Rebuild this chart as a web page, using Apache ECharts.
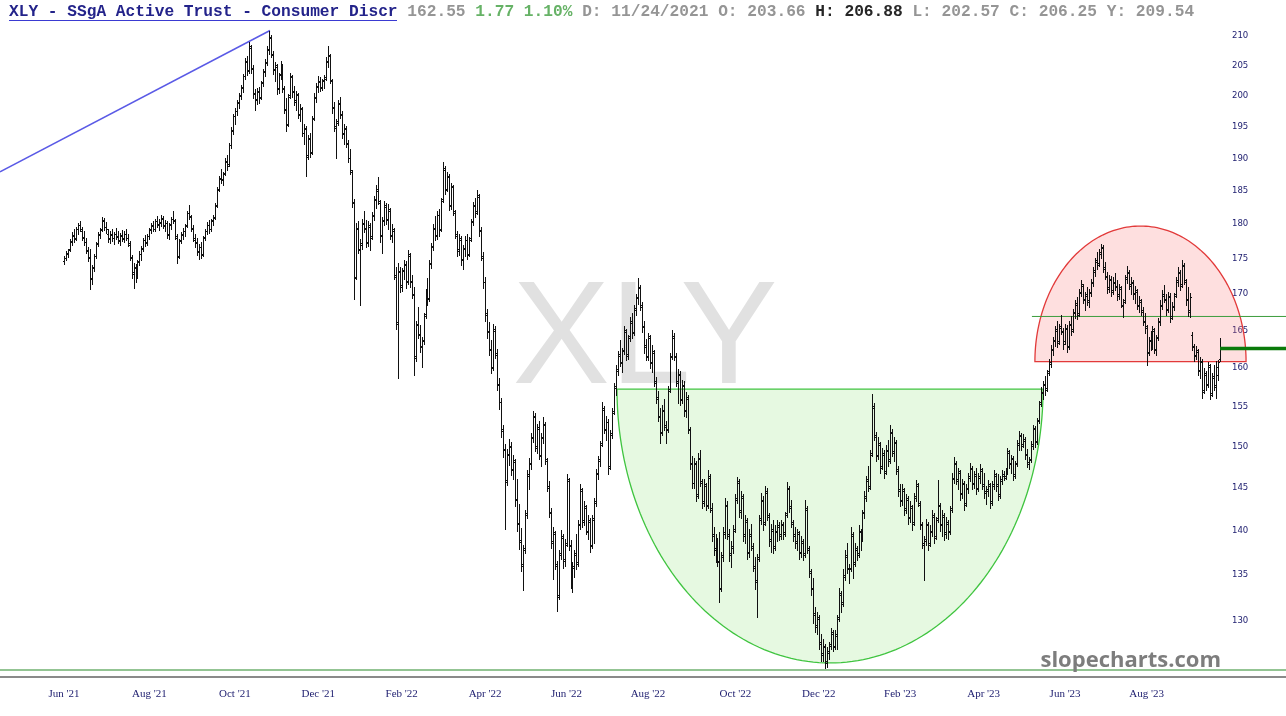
<!DOCTYPE html>
<html><head><meta charset="utf-8">
<script src="https://cdn.jsdelivr.net/npm/echarts@6.0.0/dist/echarts.min.js"></script>
<style>html,body{margin:0;padding:0;background:#fff}#c{width:1286px;height:716px}</style>
</head><body><div id="c"></div>
<script>
// ---------------- DATA ----------------
const firstDay = '2021-06-01';
const lastDay = '2023-09-22';
const holidays = ['2021-07-05','2021-09-06','2021-11-25','2021-12-24','2022-01-17','2022-02-21','2022-04-15','2022-05-30','2022-06-20','2022-07-04','2022-09-05','2022-11-24','2022-12-26','2023-01-02','2023-01-16','2023-02-20','2023-04-07','2023-05-29','2023-06-19','2023-07-04','2023-09-04'];
const monthNames = ['Jan','Feb','Mar','Apr','May','Jun','Jul','Aug','Sep','Oct','Nov','Dec'];
const yTicks = [130,135,140,145,150,155,160,165,170,175,180,185,190,195,200,205,210];
// daily bars: [open, high, low, close]
const ohlc = [
// Jun 2021
[174.6,175.4,174.2,175.1],[175.0,176.0,174.8,175.8],[175.6,176.4,175.2,176.2],[176.3,177.8,176.0,177.5],[177.4,178.8,177.0,178.4],[178.2,179.2,177.4,177.8],[177.9,179.6,177.6,179.3],[179.2,180.1,178.6,179.9],[179.8,180.4,178.9,179.2],[179.0,179.6,177.6,178.0],[178.1,178.9,176.9,177.4],[177.3,177.9,175.8,176.2],[176.0,176.6,174.6,175.0],[175.2,176.4,170.7,172.2],[172.0,174.0,171.4,173.6],[173.8,175.6,173.2,175.3],[175.4,177.4,175.0,177.1],[177.2,178.8,176.8,178.5],[178.4,179.4,177.9,179.1],[179.2,181.1,178.9,180.6],[180.4,180.9,179.1,179.6],[179.5,180.3,178.7,179.2],
// Jul 2021
[178.6,179.3,177.4,177.8],[177.9,179.0,177.2,178.6],[178.4,179.2,177.5,177.9],[178.0,178.8,177.1,178.5],[178.5,179.4,177.8,178.2],[178.1,178.9,177.2,177.5],[177.6,178.7,177.0,178.4],[178.3,179.1,177.5,177.8],[177.9,179.0,177.4,178.6],[178.5,179.2,177.6,178.0],[177.9,178.5,176.8,177.2],[177.0,177.5,174.8,175.2],[175.0,175.5,172.2,172.8],[173.0,174.4,170.8,173.8],[173.6,174.2,171.6,172.4],[172.6,174.8,172.2,174.5],[174.6,176.0,174.0,175.7],[175.6,176.8,174.8,176.4],[176.5,178.0,176.1,177.7],[177.6,178.4,176.8,177.2],[177.3,178.5,176.9,178.2],
// Aug 2021
[178.3,179.4,177.8,179.1],[179.2,180.2,178.7,179.8],[179.7,180.4,178.9,179.2],[179.3,180.8,179.0,180.5],[180.4,181.2,179.6,180.0],[179.9,180.7,179.1,180.3],[180.2,181.3,179.7,180.9],[180.8,181.2,179.4,179.7],[179.8,180.6,179.0,180.2],[180.1,180.5,178.0,178.4],[178.5,180.2,177.8,179.9],[180.0,181.0,179.2,180.7],[180.8,181.9,180.2,180.6],[180.4,180.7,177.8,178.2],[178.0,178.5,174.4,175.2],[175.4,177.8,175.0,177.5],[177.6,178.8,177.2,178.4],[178.5,179.4,177.8,179.0],[178.9,180.0,178.2,179.7],[179.8,182.0,179.6,181.6],[181.7,182.9,180.8,181.2],[181.0,181.4,179.0,179.4],
// Sep 2021
[179.3,179.9,177.5,177.9],[177.7,178.5,176.6,177.2],[177.3,178.0,175.5,175.9],[176.1,177.1,174.9,176.7],[176.6,177.3,175.0,175.5],[175.7,178.3,175.4,178.0],[178.1,179.3,177.6,179.0],[178.9,180.3,178.5,179.9],[179.8,180.6,178.7,179.2],[179.3,180.8,178.9,180.5],[180.6,181.3,179.9,180.9],[181.0,183.1,180.7,182.7],[182.8,185.6,182.5,185.1],[185.3,187.3,184.9,186.9],[186.8,188.3,186.1,186.6],[186.7,187.9,185.9,187.5],[187.7,190.0,187.4,189.6],[189.4,190.4,188.2,188.7],[189.0,192.4,188.8,192.0],[192.1,194.9,191.6,194.4],[194.3,197.0,193.8,196.6],
// Oct 2021
[196.6,198.0,195.4,197.5],[197.4,199.2,196.8,198.8],[198.9,200.4,198.0,199.9],[200.0,201.8,199.4,201.4],[201.2,203.6,200.6,203.2],[203.3,206.2,202.8,205.8],[205.6,206.6,203.4,204.0],[204.2,208.9,203.8,208.2],[208.0,208.4,203.8,204.6],[204.4,205.0,199.6,200.4],[200.2,201.0,197.6,199.2],[199.4,201.2,198.6,200.8],[200.6,201.4,198.8,199.6],[199.8,202.4,199.4,202.0],[202.2,204.4,201.6,203.9],[204.0,206.0,203.2,205.4],[205.6,208.2,205.0,207.8],[207.6,210.9,207.0,209.8],[209.6,210.2,206.4,207.0],[206.8,207.4,203.6,204.2],[204.4,205.6,202.4,205.0],
// Nov 2021
[204.8,205.2,200.2,201.0],[201.2,203.8,200.4,203.4],[203.6,205.8,202.8,204.8],[204.6,205.2,200.6,201.2],[201.0,201.6,197.2,197.8],[197.6,199.6,194.2,195.2],[195.4,200.2,195.0,199.8],[200.0,203.8,199.6,203.2],[203.0,203.4,199.8,200.6],[200.8,201.6,198.4,199.0],[199.2,200.8,197.6,200.2],[200.0,200.4,196.4,196.8],[197.0,198.6,195.8,198.0],[197.8,198.2,193.4,193.9],[194.0,195.4,192.2,194.8],[194.6,195.0,187.3,190.2],[190.4,193.6,189.8,193.0],[193.2,194.0,190.2,190.8],[191.0,196.6,190.6,196.2],[196.4,200.4,196.0,199.8],[199.6,202.0,199.0,201.6],
// Dec 2021
[201.4,203.2,200.6,202.4],[202.2,203.0,200.8,201.2],[201.4,202.8,200.9,202.4],[202.6,203.4,201.2,202.8],[203.0,206.4,202.6,205.8],[205.6,208.2,204.8,206.8],[206.6,207.0,202.0,202.6],[202.4,202.8,197.2,198.2],[198.0,199.0,194.2,194.8],[195.0,196.2,190.0,195.6],[195.8,199.2,195.2,198.6],[198.8,199.8,196.4,197.0],[196.8,197.4,193.2,193.8],[194.0,195.4,192.2,194.8],[194.6,195.0,191.8,192.4],[192.2,192.8,189.4,190.0],[190.0,191.4,187.6,188.2],[187.8,188.2,182.5,183.3],[183.1,183.7,169.3,172.2],[172.4,180.2,172.0,179.4],[179.2,180.4,175.8,176.4],[176.2,177.8,168.4,177.0],
// Jan 2022
[177.2,180.8,176.4,180.2],[180.0,182.0,178.8,179.2],[179.4,180.6,176.6,177.2],[177.4,180.4,176.8,179.8],[179.6,180.2,176.2,178.0],[178.2,181.8,177.8,181.2],[181.4,184.2,180.6,183.6],[183.8,185.8,182.4,185.2],[185.0,187.0,183.0,183.4],[183.2,183.6,177.4,178.2],[178.4,181.0,175.8,180.4],[180.6,183.4,179.8,182.8],[182.6,183.2,180.0,180.6],[180.8,183.0,179.2,182.2],[182.0,182.4,177.8,178.4],[178.2,180.0,177.4,179.2],[179.0,179.4,172.0,172.6],[172.4,173.8,165.1,165.9],[166.1,174.4,158.6,173.2],[173.0,173.8,170.2,171.0],
// Feb 2022
[171.2,173.6,170.4,173.2],[173.4,174.8,172.0,174.2],[174.0,174.6,170.8,171.6],[171.8,176.2,171.4,175.6],[175.4,175.8,171.0,171.6],[171.8,172.6,169.4,170.0],[169.8,171.0,159.0,161.3],[161.5,166.3,160.9,165.7],[165.9,168.1,163.9,164.5],[164.3,165.7,162.1,162.7],[162.9,164.1,160.1,163.5],[163.7,167.3,163.1,166.9],[167.2,170.6,166.6,170.0],[169.8,172.2,168.4,169.2],[169.4,174.8,169.0,174.2],[174.4,177.2,173.6,176.8],[176.6,180.0,176.2,179.4],[179.2,181.2,177.6,178.2],[178.4,182.0,177.8,181.4],
// Mar 2022
[181.3,182.3,178.3,179.1],[179.3,183.9,178.9,183.5],[183.7,189.4,183.3,188.4],[188.2,188.8,184.5,185.1],[185.3,187.9,184.9,187.3],[187.1,187.5,182.1,182.7],[182.9,186.1,182.3,185.7],[185.5,185.9,181.3,181.9],[181.7,182.1,177.9,178.5],[178.3,178.9,175.3,176.1],[176.3,178.5,175.5,177.9],[177.7,178.3,174.1,174.7],[174.9,176.9,173.5,176.5],[176.3,178.3,175.3,177.6],[177.7,178.5,174.9,175.5],[175.7,178.1,175.3,177.7],[177.9,180.7,177.5,180.3],[180.5,183.3,179.9,182.9],[182.7,183.9,181.1,181.7],[181.9,185.1,181.5,184.3],[184.1,184.5,178.3,179.1],[178.9,179.5,174.7,175.3],[175.1,175.9,170.8,171.6],
// Apr 2022
[171.7,172.3,166.3,167.1],[167.3,167.9,163.9,164.7],[164.9,166.1,161.7,162.3],[162.5,163.7,159.3,159.9],[160.1,165.9,159.7,165.1],[164.9,165.5,161.3,161.9],[161.7,162.5,157.1,157.7],[157.9,158.7,154.7,155.5],[155.5,156.1,151.1,151.9],[152.1,152.7,148.7,149.5],[149.7,150.3,140.2,145.7],[145.9,149.7,145.3,149.1],[148.9,150.9,147.7,150.1],[149.9,150.5,146.5,147.1],[147.3,148.9,146.1,148.3],[148.1,148.5,142.9,143.5],[143.7,146.1,139.9,140.7],[140.9,143.1,137.9,138.7],[138.9,140.3,135.4,136.0],[136.2,138.4,133.3,137.8],
// May 2022
[138.0,142.4,137.4,141.8],[142.0,147.1,141.4,146.4],[146.6,148.6,144.8,148.0],[147.8,151.6,147.2,151.0],[151.2,154.4,150.6,153.8],[153.6,154.2,149.4,150.0],[149.8,152.8,149.2,152.2],[152.4,153.2,148.4,149.0],[148.8,151.6,147.6,151.0],[151.2,153.6,150.4,152.8],[152.6,153.0,147.8,148.4],[148.2,148.6,144.6,145.2],[145.0,145.8,141.6,142.2],[142.0,142.6,138.0,138.6],[138.8,140.4,134.6,139.8],[139.6,140.0,135.6,136.2],[136.0,136.6,131.1,132.6],[132.8,137.8,132.4,137.2],[137.4,140.1,136.8,139.4],[139.2,139.6,135.8,136.6],[136.8,139.0,136.0,138.4],
// Jun 2022
[138.6,146.6,138.2,146.0],[145.8,146.2,137.8,138.4],[138.2,138.9,133.6,134.2],[134.4,136.4,133.1,135.8],[136.0,137.8,134.8,137.2],[137.4,139.6,135.6,136.2],[136.4,141.2,136.0,140.6],[140.8,145.4,140.2,144.8],[144.6,145.0,140.4,141.0],[141.2,143.4,140.6,142.8],[142.6,143.0,139.6,140.0],[139.8,141.8,139.0,141.2],[141.0,141.4,137.6,138.2],[138.4,141.8,138.0,141.4],[141.2,143.8,138.6,143.2],[143.4,147.2,142.8,146.6],[146.8,148.8,146.0,148.2],[148.4,150.7,147.6,150.2],[150.4,155.6,150.0,154.8],[154.6,155.0,151.6,152.2],[152.0,153.8,150.8,153.0],
// Jul 2022
[153.0,153.4,146.6,147.4],[147.6,152.0,147.2,151.4],[151.6,154.8,151.0,154.2],[154.4,158.0,154.0,157.4],[157.6,160.4,156.4,159.8],[159.6,162.2,159.0,161.6],[161.8,163.7,160.2,160.8],[160.6,162.6,159.4,162.2],[162.4,165.6,161.8,165.0],[164.8,165.2,161.0,161.6],[161.8,164.4,161.2,164.0],[164.2,166.8,163.6,166.2],[166.0,167.4,164.0,164.6],[164.8,168.4,164.4,167.8],[168.0,170.0,167.0,169.6],[169.4,172.2,168.6,171.0],[170.8,171.2,167.8,168.4],[168.2,168.8,164.8,165.4],[165.6,166.2,162.0,162.8],[163.0,163.8,161.0,161.6],
// Aug 2022
[161.4,164.6,161.0,164.0],[164.2,164.4,160.0,160.6],[160.8,163.0,159.4,162.2],[162.0,162.4,157.6,158.2],[158.0,158.8,155.4,156.0],[156.2,157.0,153.2,153.8],[153.6,154.8,150.4,151.6],[151.8,155.2,151.4,154.6],[154.4,156.0,152.0,152.6],[152.4,153.2,150.4,152.0],[152.2,157.6,151.8,157.0],[157.2,162.0,156.8,161.4],[161.6,165.0,161.2,164.2],[164.0,164.6,161.0,161.6],[161.4,162.0,157.6,158.2],[158.0,159.8,155.4,159.2],[159.0,159.6,155.2,155.8],[156.0,158.4,155.4,157.8],[157.6,158.2,153.8,154.4],[154.6,156.8,153.6,156.2],[156.0,156.4,151.6,152.2],[152.0,152.4,147.2,147.8],[148.0,148.8,145.0,145.6],
// Sep 2022
[145.6,148.6,145.0,148.0],[147.8,148.2,143.4,144.0],[144.2,149.2,143.8,148.6],[148.4,149.5,145.2,145.8],[145.6,146.0,142.6,143.2],[143.4,146.0,142.8,145.4],[145.2,145.6,142.4,142.8],[143.0,147.1,142.6,146.4],[146.2,146.6,142.2,142.6],[142.4,143.2,138.8,139.4],[139.6,140.4,137.2,137.8],[138.0,139.6,136.4,139.0],[138.8,139.2,136.0,136.6],[136.4,139.8,132.0,133.4],[133.6,137.6,133.2,137.0],[137.2,140.4,136.6,139.8],[139.6,143.8,139.2,143.0],[142.8,143.4,139.0,139.6],[139.4,140.2,136.6,137.2],[137.4,138.8,135.9,138.2],[138.0,140.6,137.4,140.0],
// Oct 2022
[140.2,144.2,139.8,143.6],[143.8,146.3,143.2,145.8],[145.6,146.0,141.6,142.2],[142.4,144.6,141.4,144.0],[143.8,144.2,138.8,139.4],[139.6,141.8,138.6,141.2],[141.0,141.4,136.8,137.4],[137.6,140.2,137.0,139.6],[139.4,140.8,137.8,138.2],[138.0,138.6,135.4,136.0],[135.8,137.0,133.4,134.2],[134.4,137.3,130.4,136.8],[137.0,141.8,136.6,141.2],[141.4,144.4,140.8,143.6],[143.4,144.0,140.1,140.8],[141.0,145.2,140.6,144.6],[144.4,145.0,141.2,141.8],[141.6,142.0,138.2,138.8],[139.0,140.8,137.6,140.2],[140.0,141.2,137.5,138.0],[138.2,140.6,137.8,140.0],
// Nov 2022
[139.8,141.2,138.8,140.6],[140.4,141.0,138.9,139.4],[139.6,141.2,139.0,140.8],[140.6,141.0,139.0,139.6],[139.8,142.2,139.4,141.8],[142.0,145.7,141.6,145.0],[144.8,145.2,142.2,142.8],[142.6,143.5,140.4,141.0],[140.8,141.2,138.8,139.4],[139.6,140.4,138.0,138.6],[138.8,140.2,137.8,139.8],[139.6,140.0,136.8,137.4],[137.6,139.4,137.0,138.8],[138.6,139.0,136.7,137.2],[137.4,143.5,137.0,142.6],[142.4,142.8,137.4,138.0],[137.8,138.2,134.8,135.4],[135.2,135.6,132.8,133.4],[133.6,134.7,129.8,130.6],[130.8,131.5,128.8,129.4],[129.6,131.0,128.6,130.4],
// Dec 2022
[130.2,130.6,127.0,127.6],[127.8,128.6,125.8,126.4],[126.6,128.1,125.8,127.4],[127.2,127.6,125.1,125.6],[125.8,127.2,125.2,126.8],[126.6,127.8,126.0,127.4],[127.6,129.2,127.0,128.8],[128.6,129.0,126.8,127.2],[127.4,129.0,127.0,128.4],[128.6,130.6,127.0,130.2],[130.4,133.6,130.0,133.0],[132.8,133.2,131.0,131.8],[132.0,135.6,131.6,135.0],[134.8,137.8,134.4,137.2],[137.0,138.6,135.2,135.8],[135.6,136.2,134.1,135.6],[135.8,140.4,135.4,139.6],[139.4,139.8,134.7,136.2],[136.4,138.6,136.0,138.0],[137.8,138.2,136.7,137.2],[137.4,140.6,137.0,140.0],
// Jan 2023
[139.8,140.2,137.8,139.0],[139.2,142.4,138.8,142.0],[142.2,144.6,141.4,144.0],[143.8,146.4,143.4,146.0],[145.8,147.6,144.6,145.0],[145.2,149.6,144.8,149.0],[149.2,156.6,148.8,155.0],[154.8,155.4,150.8,151.4],[151.2,151.8,148.2,148.8],[149.0,151.2,148.4,150.4],[150.2,150.6,146.8,147.4],[147.6,149.8,147.2,149.2],[149.0,149.6,146.2,146.8],[147.0,150.2,146.6,149.6],[149.4,150.8,147.6,148.2],[148.4,152.6,148.0,151.8],[151.6,152.2,148.8,149.4],[149.2,151.2,148.2,150.6],[150.4,150.8,146.6,147.2],[147.0,147.6,144.0,144.6],
// Feb 2023
[144.8,145.4,142.8,143.4],[143.6,145.4,143.0,144.8],[144.6,145.0,141.8,142.4],[142.6,144.2,142.0,143.8],[143.6,144.0,140.8,141.4],[141.6,143.4,141.0,142.8],[142.6,143.0,140.1,140.8],[141.0,144.4,140.6,144.0],[143.8,145.9,143.4,145.4],[145.2,145.6,142.8,143.2],[143.0,143.4,140.2,140.8],[140.6,141.0,138.0,138.6],[138.4,139.4,134.4,138.8],[139.0,141.3,138.4,140.8],[140.6,141.0,137.8,138.4],[138.6,140.6,138.2,140.0],[139.8,142.4,139.4,141.8],[141.6,142.0,138.6,139.2],[139.4,141.6,139.0,141.2],
// Mar 2023
[141.4,145.9,141.0,143.0],[142.8,143.2,140.0,140.6],[140.8,142.4,139.4,141.8],[141.6,142.0,138.9,139.6],[139.8,141.6,139.2,141.0],[140.8,141.2,139.0,139.8],[140.0,142.8,139.6,142.4],[142.6,146.8,142.2,146.2],[146.0,148.7,145.6,148.0],[147.8,148.2,145.4,146.0],[145.8,147.4,144.8,147.0],[146.8,147.1,143.6,144.2],[144.4,146.0,143.8,145.6],[145.4,145.8,142.4,143.0],[143.2,145.4,142.8,145.0],[144.8,146.8,144.4,146.4],[146.2,148.0,145.8,147.4],[147.2,147.6,144.8,145.4],[145.6,147.0,145.0,146.6],[146.4,147.4,144.3,144.8],[145.0,146.8,144.6,146.4],[146.2,147.8,145.6,147.2],[147.0,147.4,144.8,145.2],
// Apr 2023
[145.4,146.8,143.8,144.4],[144.6,145.2,143.1,144.8],[144.6,145.9,144.0,145.4],[145.2,145.6,142.6,143.2],[143.4,145.8,143.0,145.4],[145.2,147.1,144.8,146.6],[146.4,146.8,144.6,145.2],[145.4,146.6,143.5,144.0],[144.2,146.4,143.8,146.0],[145.8,147.1,145.4,146.6],[146.4,147.0,145.9,146.2],[146.4,147.4,146.0,147.0],[146.8,149.8,146.6,149.2],[149.4,149.6,147.4,147.8],[148.0,149.0,146.8,148.6],[148.4,148.8,145.9,146.4],[146.6,148.2,146.2,147.8],[148.0,150.8,147.6,150.4],[150.2,151.9,149.6,151.4],
// May 2023
[151.3,151.7,149.6,150.1],[150.3,151.5,149.9,150.9],[150.7,151.1,148.5,148.9],[149.1,149.7,147.5,148.1],[147.9,148.7,147.2,148.3],[148.5,150.7,148.1,150.3],[150.1,152.7,149.7,152.3],[152.1,152.5,149.9,150.5],[150.7,153.5,150.3,153.1],[153.3,155.7,152.9,155.3],[155.5,157.5,155.1,156.9],[156.7,158.3,155.9,157.9],[157.7,158.9,156.5,157.1],[157.3,159.7,157.0,159.3],[159.5,161.1,159.1,160.7],[160.5,163.0,160.1,162.5],[162.3,164.1,161.7,163.7],[163.5,165.5,162.9,165.1],[164.9,166.2,162.7,163.3],[163.5,165.9,163.1,165.5],[165.3,167.1,164.5,164.9],[164.7,165.3,162.5,163.1],
// Jun 2023
[163.5,165.9,163.1,165.3],[165.1,165.7,162.1,162.7],[162.9,166.3,162.5,165.9],[165.7,166.9,164.3,164.9],[165.1,167.9,164.7,167.5],[167.3,169.1,166.7,168.7],[168.5,169.5,166.5,167.1],[167.3,170.7,166.9,170.3],[170.1,171.9,169.7,171.3],[171.1,171.4,168.7,169.3],[169.1,170.3,167.7,169.9],[169.7,170.9,168.5,168.9],[169.1,170.7,168.1,170.3],[170.1,172.1,169.7,171.7],[171.5,173.7,171.1,173.3],[173.1,175.1,172.5,174.7],[174.5,175.9,173.5,174.1],[174.3,176.3,173.9,175.9],[175.7,177.1,175.1,176.7],[176.5,176.9,173.1,173.7],[173.5,174.5,172.1,172.5],
// Jul 2023
[172.3,173.1,170.1,170.7],[170.9,172.7,170.3,172.1],[171.9,172.5,169.7,170.3],[170.5,172.3,169.9,171.7],[171.5,172.9,170.5,171.1],[170.9,171.9,169.1,169.7],[169.9,171.3,169.3,170.9],[170.7,171.1,168.1,168.5],[168.3,169.3,166.8,168.9],[169.1,172.7,168.7,172.3],[172.1,173.9,171.5,173.1],[172.9,173.3,170.7,171.3],[171.1,172.3,169.9,171.7],[171.5,171.9,169.3,169.9],[170.1,171.1,168.7,170.5],[170.3,170.7,167.9,168.3],[168.5,169.7,167.5,169.1],[168.9,169.3,167.1,167.7],[167.5,168.1,165.7,166.3],[166.1,167.3,164.6,165.5],
// Aug 2023
[165.3,165.7,160.3,161.9],[162.1,164.1,161.7,163.7],[163.5,164.9,162.3,162.7],[162.9,165.6,162.5,165.1],[164.9,165.3,161.9,162.3],[162.5,164.3,161.7,163.9],[164.1,166.7,163.7,166.3],[166.1,169.1,165.7,168.5],[168.3,170.5,167.9,169.9],[169.7,171.2,168.9,169.3],[169.1,169.9,167.1,167.7],[167.9,170.3,167.5,169.7],[169.5,170.1,166.1,166.7],[166.9,168.9,166.5,168.3],[168.1,170.1,167.7,169.7],[169.9,172.3,169.5,171.9],[171.7,173.7,171.1,173.1],[172.9,173.3,170.5,171.1],[171.3,174.7,170.9,174.1],[173.9,174.3,171.3,171.9],[171.7,172.1,168.5,169.1],[169.3,170.9,166.9,167.5],[167.7,170.1,166.8,169.5],
// Sep 2023
[164.3,164.7,162.4,162.9],[162.7,163.2,160.9,161.5],[161.7,162.9,161.1,162.3],[162.1,162.5,159.1,159.7],[159.5,161.4,158.7,160.9],[160.7,161.1,156.1,156.9],[157.1,159.9,156.7,159.3],[159.1,159.5,157.1,157.7],[157.9,160.7,157.5,160.3],[160.1,160.5,155.9,156.5],[156.7,159.3,156.3,158.9],[158.7,160.3,157.1,157.5],[157.7,160.9,156.1,160.1],[159.0,161.0,158.4,160.78],[161.2,164.0,160.9,162.55]
];
// drawn annotations (bar index, price)
const trendLine = [[-32.22, 187.85], [103.7, 210.95]];
const cupShape = [278.4, 492.9, 157.2, 125.6];     // left idx, right idx, rim price, bottom price
const domeShape = [488.8, 595.1, 160.8, 179.7];    // left idx, right idx, base price, top price
const breakoutLevel = [487.3, 166.86];
const lastPrice = [582, 162.55];
const floorLevel = 124.88;

// ---------------- LAYOUT ----------------
const X_MIN = -32.22, X_MAX = 615.21;
const Y_MIN = Math.log(124.16), Y_MAX = Math.log(211.9);
const BAR = '#111111';

function tradingDays() {
  const hol = new Set(holidays), out = [];
  let t = Date.parse(firstDay + 'T00:00:00Z');
  const end = Date.parse(lastDay + 'T00:00:00Z');
  while (t <= end) {
    const d = new Date(t), wd = d.getUTCDay(), s = d.toISOString().slice(0, 10);
    if (wd !== 0 && wd !== 6 && !hol.has(s)) out.push(s);
    t += 86400000;
  }
  return out;
}
const days = tradingDays();
const tickIdx = [], tickLabel = {};
for (let i = 0; i < days.length; i++) {
  const m = +days[i].slice(5, 7), pm = i > 0 ? +days[i - 1].slice(5, 7) : -1;
  if (m !== pm && m % 2 === 0) { tickIdx.push(i); tickLabel[i] = monthNames[m - 1] + " '" + days[i].slice(2, 4); }
}
const n = Math.min(days.length, ohlc.length);
const barData = [];
for (let i = 0; i < n; i++) {
  const b = ohlc[i];
  barData.push([i, Math.log(b[0]), Math.log(b[1]), Math.log(b[2]), Math.log(b[3])]);
}

function renderBar(params, api) {
  const x = api.value(0);
  const o = api.coord([x, api.value(1)]), h = api.coord([x, api.value(2)]);
  const l = api.coord([x, api.value(3)]), c = api.coord([x, api.value(4)]);
  const px = Math.round(o[0]);
  const yo = Math.round(o[1]) + 0.5, yc = Math.round(c[1]) + 0.5;
  const st = { stroke: BAR, lineWidth: 1 };
  return { type: 'group', children: [
    { type: 'line', shape: { x1: px + 0.5, y1: Math.round(h[1]), x2: px + 0.5, y2: Math.round(l[1]) + 1 }, style: st },
    { type: 'line', shape: { x1: px - 1, y1: yo, x2: px, y2: yo }, style: st },
    { type: 'line', shape: { x1: px + 1, y1: yc, x2: px + 2, y2: yc }, style: st }
  ]};
}
function halfEllipse(spec, down, fill, stroke) {
  return function (params, api) {
    const L = api.coord([spec[0], Math.log(spec[2])]);
    const R = api.coord([spec[1], Math.log(spec[2])]);
    const E = api.coord([(spec[0] + spec[1]) / 2, Math.log(spec[3])]);
    const cx = (L[0] + R[0]) / 2, rx = (R[0] - L[0]) / 2, by = L[1], ry = Math.abs(E[1] - by);
    const pts = [];
    for (let k = 0; k <= 120; k++) {
      const t = Math.PI * k / 120;
      pts.push([cx - rx * Math.cos(t), by + (down ? 1 : -1) * ry * Math.sin(t)]);
    }
    return { type: 'polygon', shape: { points: pts }, style: { fill: fill, stroke: stroke, lineWidth: 1.3 } };
  };
}
function hLine(x1, x2, p, color, width, z) {
  return { type: 'line', data: [[x1, Math.log(p)], [x2, Math.log(p)]], showSymbol: false, silent: true, clip: true, z: z,
    lineStyle: { color: color, width: width }, animation: false };
}

const chart = echarts.init(document.getElementById('c'));
chart.setOption({
  animation: false,
  backgroundColor: '#ffffff',
  title: {
    left: 9, top: 4, padding: 0,
    text: '{a|XLY - SSgA Active Trust - Consumer Discr}{n| 162.55 }{g|1.77 1.10%}{d| D: 11/24/2021 O: 203.66 }{h|H: 206.88}{d| L: 202.57 C: 206.25 Y: 209.54}',
    textStyle: { rich: {
      a: { fontFamily: 'Liberation Mono', fontSize: 16.2, color: '#23238a' },
      n: { fontFamily: 'Liberation Mono', fontSize: 16.2, color: '#959595' },
      g: { fontFamily: 'Liberation Mono', fontSize: 16.2, color: '#66b266' },
      d: { fontFamily: 'Liberation Mono', fontSize: 16.2, color: '#959595' },
      h: { fontFamily: 'Liberation Mono', fontSize: 16.2, color: '#262626', fontWeight: 'bold' }
    } }
  },
  graphic: [
    { type: 'line', shape: { x1: 9, y1: 20.5, x2: 397, y2: 20.5 }, style: { stroke: '#3a3ad2', lineWidth: 1 }, z: 5 },
    { type: 'text', x: 645, y: 343, z: -5, style: { text: 'XLY', font: '146px "Liberation Sans"', fill: '#e1e1e1', align: 'center', verticalAlign: 'middle' } },
    { type: 'text', x: 1221, y: 661, z: 5, style: { text: 'slopecharts.com', font: 'bold 22px "Open Sans"', fill: '#7d7d7d', align: 'right', verticalAlign: 'middle' } }
  ],
  grid: { left: 0, right: 0, top: 25, bottom: 39 },
  xAxis: {
    type: 'value', min: X_MIN, max: X_MAX,
    axisLine: { show: true, onZero: false, lineStyle: { color: '#8a8a8a', width: 2 } },
    axisTick: { show: false }, splitLine: { show: false },
    axisLabel: { customValues: tickIdx, formatter: v => tickLabel[Math.round(v)] || '', color: '#1c1c6e', fontFamily: 'Liberation Serif', fontSize: 11, margin: 12 }
  },
  yAxis: {
    type: 'value', position: 'right', min: Y_MIN, max: Y_MAX, scale: true,
    axisLine: { show: false }, axisTick: { show: false }, splitLine: { show: false },
    axisLabel: { inside: true, margin: 54, align: 'left', customValues: yTicks.map(v => Math.log(v)),
      formatter: v => String(Math.round(Math.exp(v))), color: '#1c1c6e', fontFamily: '"DejaVu Sans Condensed","DejaVu Sans"', fontSize: 9.5 }
  },
  series: [
    { type: 'custom', renderItem: halfEllipse(cupShape, true, 'rgba(150,230,130,0.24)', '#3fc43f'), data: [[cupShape[0], Math.log(cupShape[2])]], clip: true, silent: true, z: 1 },
    { type: 'custom', renderItem: halfEllipse(domeShape, false, 'rgba(250,130,130,0.26)', '#e23a3a'), data: [[domeShape[0], Math.log(domeShape[2])]], clip: true, silent: true, z: 1 },
    hLine(X_MIN - 5, X_MAX + 5, floorLevel, '#93c493', 2, 2),
    hLine(breakoutLevel[0], X_MAX + 5, breakoutLevel[1], '#3c9c3c', 1, 2),
    hLine(lastPrice[0], X_MAX + 5, lastPrice[1], '#0a7a0a', 3.5, 4),
    { type: 'line', data: trendLine.map(p => [p[0], Math.log(p[1])]), showSymbol: false, silent: true, clip: true, z: 2,
      lineStyle: { color: '#5a5ae6', width: 1.5 } },
    { type: 'custom', renderItem: renderBar, data: barData, encode: { x: 0, y: [1, 2, 3, 4] }, clip: true, silent: true, z: 3 }
  ]
});
</script>
</body></html>
